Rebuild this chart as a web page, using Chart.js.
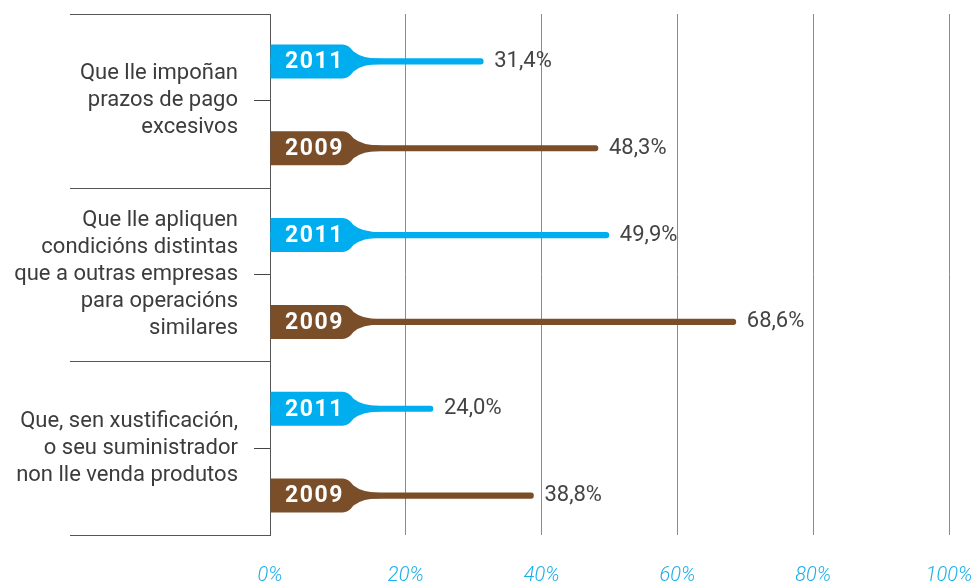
<!DOCTYPE html>
<html>
<head>
<meta charset="utf-8">
<script src="https://cdn.jsdelivr.net/npm/chart.js@4/dist/chart.umd.min.js"></script>
<style>
html,body{margin:0;padding:0;background:#fff;}
#wrap{width:976px;height:585px;position:relative;}
</style>
</head>
<body>
<div id="wrap"><canvas id="c" width="976" height="585"></canvas></div>
<script>
const categories = [
  ["Que lle impoñan", "prazos de pago", "excesivos"],
  ["Que lle apliquen", "condicións distintas", "que a outras empresas", "para operacións", "similares"],
  ["Que, sen xustificación,", "o seu suministrador", "non lle venda produtos"]
];
const seriesNames = ["2011", "2009"];
const values2011 = [31.4, 49.9, 24.0];
const values2009 = [48.3, 68.6, 38.8];
const xTickValues = [0, 20, 40, 60, 80, 100];

const BLUE = '#00adef';
const BROWN = '#7b4e2a';
const BAR_SHIFT = 4;

const tagPlugin = {
  id: 'tags',
  beforeDatasetsDraw(chart) {
    chart.ctx.save();
    chart.ctx.translate(0, BAR_SHIFT);
  },
  afterDatasetsDraw(chart) {
    const ctx = chart.ctx;
    chart.data.datasets.forEach((ds, di) => {
      const meta = chart.getDatasetMeta(di);
      meta.data.forEach((el, i) => {
        const x0 = el.base, y = el.y;
        const h = 17, w = 78, t = 2.7;
        ctx.save();
        ctx.fillStyle = ds.backgroundColor;
        ctx.beginPath();
        ctx.moveTo(x0, y - h);
        ctx.lineTo(x0 + w - 6, y - h);
        ctx.quadraticCurveTo(x0 + w, y - h, x0 + w + 5, y - h + 7);
        ctx.quadraticCurveTo(x0 + w + 14, y - t, x0 + w + 32, y - t);
        ctx.lineTo(x0 + w + 32, y + t);
        ctx.quadraticCurveTo(x0 + w + 14, y + t, x0 + w + 5, y + h - 7);
        ctx.quadraticCurveTo(x0 + w, y + h, x0 + w - 6, y + h);
        ctx.lineTo(x0, y + h);
        ctx.closePath();
        ctx.fill();
        ctx.fillStyle = '#ffffff';
        ctx.font = 'bold 23px Roboto';
        try { ctx.letterSpacing = '1.5px'; } catch(e) {}
        ctx.textAlign = 'center';
        ctx.textBaseline = 'middle';
        ctx.fillText(ds.label, x0 + 44, y + 1);
        try { ctx.letterSpacing = '0px'; } catch(e) {}
        const v = ds.data[i];
        ctx.fillStyle = '#444444';
        ctx.font = '22px Roboto';
        ctx.textAlign = 'left';
        ctx.fillText(v.toFixed(1).replace('.', ',') + '%', el.x + 11, y);
        ctx.restore();
      });
    });
    ctx.restore();
  },
  afterDraw(chart) {
    const ctx = chart.ctx;
    const ys = chart.scales.y;
    const left = chart.chartArea.left;
    ctx.save();
    ctx.strokeStyle = '#555555';
    ctx.lineWidth = 1;
    for (let i = 0; i <= categories.length; i++) {
      const py = Math.round(ys.getPixelForValue(i - 0.5)) + 0.5;
      ctx.beginPath();
      ctx.moveTo(70, py);
      ctx.lineTo(left, py);
      ctx.stroke();
    }
    ctx.restore();
  }
};

new Chart(document.getElementById('c'), {
  type: 'bar',
  data: {
    labels: categories,
    datasets: [
      { label: seriesNames[0], data: values2011, backgroundColor: BLUE, borderRadius: 3, borderSkipped: 'start' },
      { label: seriesNames[1], data: values2009, backgroundColor: BROWN, borderRadius: 3, borderSkipped: 'start' }
    ]
  },
  plugins: [tagPlugin],
  options: {
    indexAxis: 'y',
    responsive: false,
    animation: false,
    maintainAspectRatio: false,
    categoryPercentage: 1,
    barPercentage: 1,
    maxBarThickness: 5.5,
    layout: { padding: { top: 14, right: 27, left: 0, bottom: 0 } },
    plugins: { legend: { display: false }, tooltip: { enabled: false } },
    scales: {
      x: {
        min: 0, max: 100,
        afterBuildTicks(scale) { scale.ticks = xTickValues.map(v => ({ value: v })); },
        afterFit(scale) {
          scale.height = 50;
          scale.paddingLeft = 0; scale.paddingRight = 0;
          scale.paddingTop = 0; scale.paddingBottom = 0;
        },
        border: { display: false },
        grid: {
          drawTicks: false,
          color: (c) => c.tick && c.tick.value === 0 ? '#555555' : '#8a8a8a',
          lineWidth: 1
        },
        ticks: {
          padding: 29,
          color: '#1aaeea',
          font: { family: 'Roboto', size: 20, style: 'italic', weight: 300 },
          callback: (v) => v + '%'
        }
      },
      y: {
        afterFit(scale) {
          scale.width = 270;
          scale.paddingLeft = 0; scale.paddingRight = 0;
          scale.paddingTop = 0; scale.paddingBottom = 0;
        },
        border: { display: true, color: '#555555' },
        grid: { offset: false, drawOnChartArea: false, tickLength: 16, color: '#444444' },
        ticks: {
          padding: 16,
          color: '#3c3c3c',
          font: { family: 'Roboto', size: 22, lineHeight: 1.23 }
        }
      }
    }
  }
});
</script>
</body>
</html>
